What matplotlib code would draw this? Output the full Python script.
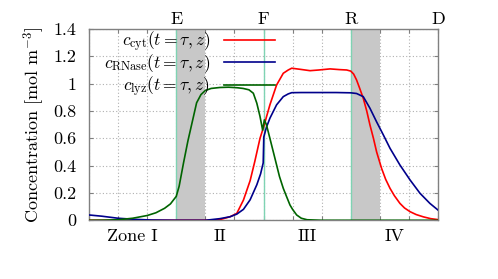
import matplotlib
matplotlib.use("Agg")
import matplotlib.pyplot as plt
import matplotlib.transforms as mtransforms

plt.rcParams['font.family'] = 'serif'
plt.rcParams['font.serif'] = ['cmr10']
plt.rcParams['mathtext.fontset'] = 'cm'
plt.rcParams['axes.unicode_minus'] = False
plt.rcParams['axes.formatter.use_mathtext'] = True

# ---------------- data ----------------
x_lyz = [0, 0.5, 1.0, 1.5, 2.0, 2.3, 2.6, 2.8, 3.0, 3.1, 3.25, 3.4, 3.55, 3.7, 3.85, 4.0,
         4.2, 4.5, 4.8, 5.1, 5.3, 5.5, 5.65, 5.77, 5.88, 5.97, 6.03, 6.1, 6.22, 6.35, 6.45,
         6.55, 6.68, 6.8, 6.91, 7.0, 7.14, 7.3, 7.5, 8, 9, 10, 11, 12]
c_lyz = [0, 0.001, 0.004, 0.015, 0.035, 0.055, 0.088, 0.12, 0.175, 0.25, 0.42, 0.58, 0.72,
         0.86, 0.92, 0.95, 0.965, 0.972, 0.974, 0.97, 0.965, 0.955, 0.93, 0.857, 0.76, 0.66,
         0.735, 0.70, 0.60, 0.49, 0.405, 0.32, 0.234, 0.17, 0.112, 0.08, 0.039, 0.015, 0.004,
         0, 0, 0, 0, 0]

x_cyt = [0, 4.0, 4.5, 4.85, 5.08, 5.31, 5.54, 5.7, 5.88, 6.0, 6.22, 6.45, 6.68, 6.85, 6.97,
         7.26, 7.6, 7.9, 8.29, 8.6, 8.86, 9.0, 9.1, 9.2, 9.3, 9.43, 9.55, 9.66, 9.78, 9.89,
         10.06, 10.2, 10.35, 10.5, 10.69, 10.85, 11.04, 11.25, 11.5, 11.75, 12.0]
c_cyt = [0, 0, 0.005, 0.026, 0.05, 0.148, 0.29, 0.43, 0.6, 0.68, 0.845, 0.99, 1.076, 1.10,
         1.113, 1.105, 1.095, 1.10, 1.108, 1.103, 1.1, 1.092, 1.07, 1.027, 0.97, 0.893, 0.80,
         0.698, 0.60, 0.50, 0.38, 0.30, 0.234, 0.18, 0.124, 0.09, 0.063, 0.042, 0.025, 0.012,
         0.005]

x_rna = [0, 0.44, 1.0, 1.58, 2.15, 3, 4.0, 4.5, 4.85, 5.08, 5.31, 5.54, 5.77, 5.9, 5.99,
         6.01, 6.1, 6.22, 6.45, 6.68, 6.85, 6.97, 7.3, 8, 8.5, 9.0, 9.2, 9.43, 9.66, 9.89,
         10.12, 10.35, 10.69, 11.04, 11.38, 11.72, 12]
c_rna = [0.039, 0.03, 0.015, 0.007, 0.002, 0, 0, 0.012, 0.026, 0.045, 0.08, 0.15, 0.26, 0.34,
         0.42, 0.61, 0.68, 0.747, 0.845, 0.905, 0.925, 0.934, 0.935, 0.935, 0.935, 0.933,
         0.928, 0.905, 0.82, 0.72, 0.625, 0.527, 0.405, 0.295, 0.198, 0.124, 0.075]

boundary_pos = [3, 6, 9, 12]
boundary_labels = ['E', 'F', 'R', 'D']
shade_spans = [(3, 4), (9, 10)]
zone_pos = [1.5, 4.5, 7.5, 10.5]
zone_labels = ['Zone I', 'II', 'III', 'IV']
yticks = [0, 0.2, 0.4, 0.6, 0.8, 1.0, 1.2, 1.4]
ytick_labels = ['0', '0.2', '0.4', '0.6', '0.8', '1', '1.2', '1.4']

# ---------------- figure ----------------
fig = plt.figure(figsize=(4.98, 2.79), dpi=100)
ax = fig.add_axes([89/498, 1-220.3/279, (438-89)/498, (220.3-29)/279])
ax.set_xlim(0, 12)
ax.set_ylim(0, 1.4)
ax.set_axisbelow(True)

ax.grid(True, which='major', color='#b0b0b0', linestyle=(0, (1, 2)), linewidth=0.8)
for a, b in shade_spans:
    ax.axvspan(a, b, color='#c8c8c8', lw=0, zorder=1)
for p in boundary_pos[:3]:
    ax.axvline(p, color='#7fd3b3', lw=1.0, zorder=2)

ax.plot(x_cyt, c_cyt, color='#ff0000', lw=1.2, zorder=3, label=r'$c_{\mathrm{cyt}}(t=\tau,z)$')
ax.plot(x_rna, c_rna, color='#00008b', lw=1.2, zorder=3, label=r'$c_{\mathrm{RNase}}(t=\tau,z)$')
ax.plot(x_lyz, c_lyz, color='#006400', lw=1.2, zorder=3, label=r'$c_{\mathrm{lyz}}(t=\tau,z)$')

ax.set_xticks(range(0, 13))
ax.set_xticklabels([])
ax.set_xticks(zone_pos, minor=True)
ax.set_xticklabels(zone_labels, minor=True, fontsize=13)
ax.tick_params(axis='x', which='minor', length=0, pad=6)
ax.set_yticks(yticks)
ax.set_yticklabels(ytick_labels, fontsize=13)
ax.tick_params(axis='both', which='major', direction='in', length=3, color='#808080',
               top=True, right=True, width=0.8)
ax.tick_params(axis='y', pad=9)

for s in ax.spines.values():
    s.set_color('#808080')
    s.set_linewidth(1.0)

trans = mtransforms.blended_transform_factory(ax.transData, ax.transAxes)
for p, lab in zip(boundary_pos, boundary_labels):
    ax.text(p, 1.012, lab, transform=trans, ha='center', va='bottom', fontsize=13)

ax.set_ylabel(r'Concentration [mol m$^{-3}$]', fontsize=13)
ax.yaxis.set_label_coords(-0.12, 0.5)

leg = ax.legend(loc='upper right', bbox_to_anchor=(0.533, 1.0), frameon=False, markerfirst=False,
                fontsize=12.5, handlelength=2.93, handletextpad=0.81, labelspacing=-0.08,
                borderaxespad=0, borderpad=0)

fig.savefig('out.png', dpi=100)
